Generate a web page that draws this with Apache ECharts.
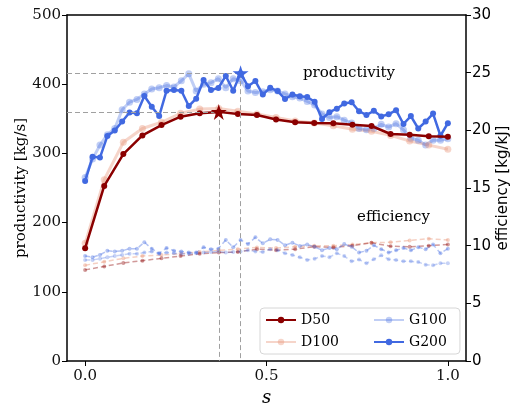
<!DOCTYPE html>
<html>
<head>
<meta charset="utf-8">
<script src="https://cdn.jsdelivr.net/npm/echarts@6/dist/echarts.min.js"></script>
<style>
* { margin: 0; padding: 0; }
body { background: white; }
</style>
</head>
<body>
<!-- chart container -->
<div id="main" style="width:510px;height:408px;background:white;"></div>
<script>
// productivity [kg/s], D-series on 20 s-steps, G-series on 50 s-steps
var dProd50 = [163, 253, 299, 326, 341, 353, 358, 360, 357, 355.5, 349, 345, 344, 343.5, 341.5, 339.6, 328, 327, 324.7, 324];
var dProd100 = [170, 262, 316, 336, 345, 358, 364, 365, 361, 357, 352, 347, 344, 340, 335, 332, 326, 318, 312, 306];
var gProd100 = [265, 292, 312, 327, 336, 363, 374, 378, 386, 393, 395, 398, 396, 405, 415, 390, 400, 402, 408, 395,
  408, 405, 390, 388, 389, 392, 390, 386, 382, 380, 375, 370, 357, 352, 353, 348, 344, 336, 334, 336,
  342, 338, 343, 334, 322, 319, 312, 319, 319, 321];
var gProd200 = [260, 295, 294, 325, 333, 346, 359, 358, 383, 367.5, 354, 390.6, 391.6, 390.6, 368.5, 379, 406, 391.6, 394.5, 412,
  390.6, 416, 397, 404.5, 385, 395, 390, 378.6, 385, 382.5, 381.5, 374.7, 349.7, 359.5, 364.6, 372, 374, 361, 355.5, 361.5,
  353.5, 356.5, 362.5, 342.5, 354, 336, 346, 357.5, 325.5, 343.7];

// efficiency [kg/kJ]
var dEff50 = [7.9, 8.2, 8.5, 8.7, 8.9, 9.1, 9.3, 9.4, 9.45, 9.7, 9.6, 9.7, 9.9, 9.85, 10.0, 10.25, 9.95, 9.9, 10.0, 10.1];
var dEff100 = [8.3, 8.6, 8.9, 9.1, 9.2, 9.3, 9.45, 9.6, 9.7, 9.85, 9.8, 9.9, 10.0, 10.0, 10.1, 10.25, 10.3, 10.45, 10.6, 10.5];
var gEff100 = [8.76, 8.76, 8.87, 9.0, 9.1, 9.2, 9.3, 9.3, 9.4, 9.5, 9.3, 9.4, 9.35, 9.3, 9.3, 9.35, 9.4, 9.45, 9.5, 9.4,
  9.45, 9.5, 9.6, 9.5, 9.45, 9.7, 9.6, 9.34, 9.2, 8.99, 8.76, 8.87, 9.1, 9.0, 9.34, 9.1, 8.64, 8.8, 8.47, 8.82,
  9.16, 8.82, 8.76, 8.64, 8.64, 8.58, 8.35, 8.3, 8.47, 8.47];
var gEff200 = [9.1, 9.0, 9.2, 9.56, 9.5, 9.56, 9.74, 9.74, 10.3, 9.74, 9.34, 9.8, 9.56, 9.5, 9.4, 9.4, 9.86, 9.68, 9.74, 10.5,
  9.86, 10.5, 10.14, 10.72, 10.2, 10.55, 10.5, 10.03, 10.26, 9.97, 10.1, 9.9, 9.6, 9.8, 9.7, 10.14, 9.9, 9.4, 9.56, 10.03,
  9.7, 9.4, 9.6, 9.8, 9.6, 9.86, 9.7, 10.1, 9.34, 9.74];

var xTicks = [0, 0.5, 1.0];

var SERIF = "DejaVu Serif";
var SANS = "DejaVu Sans";
var XMIN = -0.05, XMAX = 1.05;
var STAR = "path://M0,-1L0.2245,-0.309L0.951,-0.309L0.363,0.118L0.588,0.809L0,0.382L-0.588,0.809L-0.363,0.118L-0.951,-0.309L-0.2245,-0.309Z";

// pair values with the evenly spaced s grid (0..1)
function pairs(arr) {
  var n = arr.length;
  return arr.map(function (v, i) { return [i / (n - 1), v]; });
}
function argmax(arr) {
  var k = 0;
  for (var i = 1; i < arr.length; i++) if (arr[i] > arr[k]) k = i;
  return k;
}

var kD = argmax(dProd50), kG = argmax(gProd200);
var starD = [kD / (dProd50.length - 1), dProd50[kD]];
var starG = [kG / (gProd200.length - 1), gProd200[kG]];

function refLines(p) {
  return {
    silent: true,
    symbol: "none",
    label: { show: false },
    lineStyle: { type: [5, 3], color: "#a0a0a0", width: 1 },
    data: [
      [{ coord: [XMIN, p[1]] }, { coord: [p[0], p[1]] }],
      [{ coord: [p[0], p[1]] }, { coord: [p[0], 0] }]
    ]
  };
}

function prodSeries(name, arr, color, width, size, z) {
  return {
    name: name, type: "line", data: pairs(arr), z: z,
    symbol: "circle", symbolSize: size, showSymbol: true,
    lineStyle: { color: color, width: width },
    itemStyle: { color: color }
  };
}
function effSeries(name, arr, color, z) {
  return {
    name: name, type: "line", yAxisIndex: 1, data: pairs(arr), z: z,
    symbol: "circle", symbolSize: 4,
    lineStyle: { color: color, width: 1.5, type: [5, 3] },
    itemStyle: { color: color }
  };
}

var chart = echarts.init(document.getElementById("main"));

var legendText = { fontFamily: SERIF, fontSize: 14, color: "#000" };
var frame = { onZero: false, lineStyle: { color: "#000", width: 1.5 } };

chart.setOption({
  animation: false,
  grid: { left: 67, right: 44, top: 15, bottom: 47, containLabel: false, outerBoundsMode: "none" },
  legend: [
    {
      data: ["D50", "D100"], orient: "vertical",
      left: 260, top: 308,
      itemWidth: 30, itemHeight: 8, itemGap: 8,
      padding: [5, 121, 5, 5],
      borderColor: "#d6d6d6", borderWidth: 1, borderRadius: 4,
      backgroundColor: "rgba(255,255,255,0.85)",
      textStyle: legendText
    },
    {
      data: ["G100", "G200"], orient: "vertical",
      left: 368, top: 308,
      itemWidth: 30, itemHeight: 8, itemGap: 8,
      padding: [5, 5, 5, 5],
      textStyle: legendText
    }
  ],
  graphic: [
    { type: "text", left: 303, top: 66, style: { text: "productivity", font: "15px " + SERIF, fill: "#000" } },
    { type: "text", left: 357, top: 210, style: { text: "efficiency", font: "15px " + SERIF, fill: "#000" } }
  ],
  xAxis: [
    {
      type: "value", min: XMIN, max: XMAX,
      name: "s", nameLocation: "middle", nameGap: 28, nameMoveOverlap: false,
      nameTextStyle: { fontFamily: SERIF, fontStyle: "italic", fontSize: 18, color: "#000" },
      axisLine: frame,
      axisTick: { show: true, length: 5, customValues: xTicks, lineStyle: { color: "#000" } },
      axisLabel: {
        customValues: xTicks, margin: 8,
        fontFamily: SERIF, fontSize: 15, color: "#111",
        formatter: function (v) { return v.toFixed(1); }
      },
      splitLine: { show: false }
    },
    {
      // top frame line
      type: "value", position: "top", min: XMIN, max: XMAX,
      axisLine: frame,
      axisTick: { show: false }, axisLabel: { show: false }, splitLine: { show: false }
    }
  ],
  yAxis: [
    {
      type: "value", min: 0, max: 500, interval: 100,
      name: "productivity [kg/s]", nameLocation: "middle", nameGap: 38, nameMoveOverlap: false,
      nameTextStyle: { fontFamily: SERIF, fontSize: 15, color: "#000" },
      axisLine: { show: true, onZero: false, lineStyle: { color: "#000", width: 1.5 } },
      axisTick: { show: true, length: 5, lineStyle: { color: "#000" } },
      axisLabel: { margin: 6, fontFamily: SERIF, fontSize: 15, color: "#111" },
      splitLine: { show: false }
    },
    {
      type: "value", min: 0, max: 30, interval: 5, position: "right",
      name: "efficiency [kg/kJ]", nameLocation: "middle", nameGap: 30, nameMoveOverlap: false,
      nameTextStyle: { fontFamily: SANS, fontSize: 15, color: "#000" },
      axisLine: { show: true, onZero: false, lineStyle: { color: "#000", width: 1.5 } },
      axisTick: { show: true, length: 5, lineStyle: { color: "#000" } },
      axisLabel: { margin: 6, fontFamily: SANS, fontSize: 15, color: "#000" },
      splitLine: { show: false }
    }
  ],
  series: [
    effSeries("D100 eff", dEff100, "rgba(233,150,122,0.45)", 1),
    effSeries("D50 eff", dEff50, "rgba(139,0,0,0.4)", 1),
    effSeries("G100 eff", gEff100, "rgba(65,105,225,0.3)", 1),
    effSeries("G200 eff", gEff200, "rgba(65,105,225,0.4)", 1),
    prodSeries("G100", gProd100, "rgba(65,105,225,0.33)", 3, 7, 2),
    prodSeries("D100", dProd100, "rgba(233,150,122,0.4)", 3, 7, 2),
    Object.assign(prodSeries("D50", dProd50, "#8b0000", 2.5, 6, 4), {
      markLine: refLines(starD),
      markPoint: {
        symbol: STAR, symbolSize: 16, silent: true, label: { show: false },
        itemStyle: { color: "#8b0000" },
        data: [{ coord: starD }]
      }
    }),
    Object.assign(prodSeries("G200", gProd200, "#4169e1", 2.5, 6, 3), {
      markLine: refLines(starG),
      markPoint: {
        symbol: STAR, symbolSize: 16, silent: true, label: { show: false },
        itemStyle: { color: "#4169e1" },
        data: [{ coord: starG }]
      }
    })
  ]
});
</script>
</body>
</html>
